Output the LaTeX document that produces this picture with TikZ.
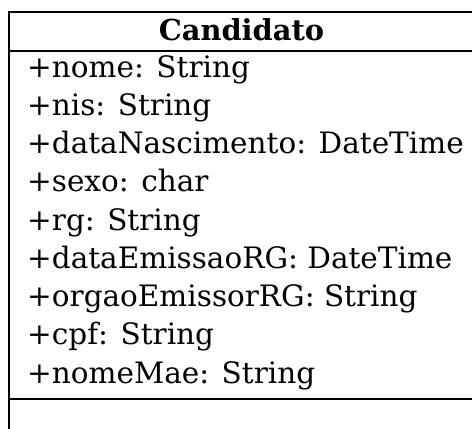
\documentclass[tikz,border=0pt]{standalone}
\usepackage{fontspec}
\setmainfont{DejaVu Serif}
\tikzset{
  umlline/.style={draw,line width=1.2bp},
  attr/.style={anchor=base west,inner sep=0pt,font=\fontsize{29.6}{34}\selectfont},
  classname/.style={anchor=base,inner sep=0pt,font=\fontsize{29}{34}\selectfont\bfseries}
}
\begin{document}
\begin{tikzpicture}[x=1bp,y=-1bp]
  \useasboundingbox (0,0) rectangle (472,428);
  \begin{scope}
    % class box
    \coordinate (nw) at (9,12);
    \coordinate (se) at (482,440);
    \path[umlline] (nw) rectangle (se);

    \node[classname] (cand) at (241.5,40) {Candidato};

    \coordinate (hl) at (9,51);
    \coordinate (hr) at (482,51);
    \path[umlline] (hl) -- (hr);

    \node[attr] (nome) at (27,77) {+nome: String};
    \node[attr] (nis) at (27,115.25) {+nis: String};
    \node[attr] (nasc) at (27,153.5) {+dataNascimento: DateTime};
    \node[attr] (sexo) at (27,191.75) {+sexo: char};
    \node[attr] (rg) at (27,230) {+rg: String};
    \node[attr] (emis) at (27,268.25) {+dataEmissaoRG: DateTime};
    \node[attr] (orgao) at (27,306.5) {+orgaoEmissorRG: String};
    \node[attr] (cpf) at (27,344.75) {+cpf: String};
    \node[attr] (mae) at (27,383) {+nomeMae: String};

    \coordinate (ml) at (9,399);
    \coordinate (mr) at (482,399);
    \path[umlline] (ml) -- (mr);
  \end{scope}
\end{tikzpicture}
\end{document}
